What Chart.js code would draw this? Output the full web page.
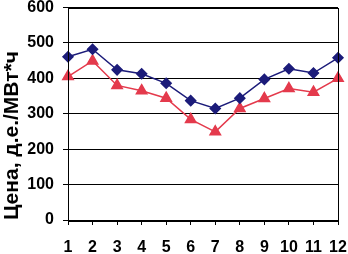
<!DOCTYPE html>
<html>
<head>
<meta charset="utf-8">
<script src="https://cdn.jsdelivr.net/npm/chart.js@4"></script>
<style>
  html, body { margin: 0; padding: 0; background: #fff; }
  #wrap { width: 348px; height: 254px; }
</style>
</head>
<body>
<div id="wrap"><canvas id="myChart" width="348" height="254"></canvas></div>
<script>
// months 1..12
const months = ['1', '2', '3', '4', '5', '6', '7', '8', '9', '10', '11', '12'];
const priceBlue = [461, 482, 424, 413, 386, 337, 315, 344, 397, 427, 415, 458];
const priceRed = [405, 449, 380, 365, 344, 284, 249, 315, 343, 371, 361, 400];
const yTitle = 'Цена, д.е./МВт*ч';

// box round the plot area
const frame = {
  id: 'frame',
  afterDraw(chart) {
    const a = chart.chartArea, c = chart.ctx;
    c.save();
    c.strokeStyle = '#000';
    c.lineWidth = 1;
    c.strokeRect(Math.round(a.left) + 0.5, Math.round(a.top) + 0.5,
      Math.round(a.right - a.left), Math.round(a.bottom - a.top));
    c.restore();
  }
};

const font = { family: 'Liberation Sans, Arial, sans-serif', size: 16, weight: 'bold' };

new Chart(document.getElementById('myChart'), {
  type: 'line',
  data: {
    labels: months,
    datasets: [
      {
        data: priceBlue,
        borderColor: '#1c1c7a',
        backgroundColor: '#1c1c7a',
        borderWidth: 1.5,
        pointStyle: 'rectRot',
        pointRadius: 5,
        tension: 0
      },
      {
        data: priceRed,
        borderColor: '#e43a4c',
        backgroundColor: '#e43a4c',
        borderWidth: 1.5,
        pointStyle: 'triangle',
        pointRadius: 6,
        tension: 0
      }
    ]
  },
  options: {
    responsive: false,
    animation: false,
    layout: { padding: { top: 5, right: 10, left: 0, bottom: 0 } },
    plugins: { legend: { display: false }, tooltip: { enabled: false } },
    scales: {
      x: {
        offset: false,
        grid: { display: true, drawOnChartArea: false, color: '#000', tickLength: 5 },
        border: { color: '#000' },
        ticks: { color: '#000', font: font, padding: 13, maxRotation: 0, autoSkip: false },
        afterFit(s) { s.height = 34; s.paddingLeft = 0; s.paddingRight = 0; }
      },
      y: {
        min: 0,
        max: 600,
        ticks: { stepSize: 100, color: '#000', font: font, padding: 9 },
        grid: { color: '#000', tickLength: 5 },
        border: { color: '#000' },
        title: { display: true, text: yTitle, color: '#000', align: 'start',
          font: { family: 'Liberation Sans, Arial, sans-serif', size: 21, weight: 'bold' }, padding: 0 },
        afterFit(s) { s.width = 68; s.paddingTop = 0; s.paddingBottom = 0; }
      }
    }
  },
  plugins: [frame]
});
</script>
</body>
</html>
